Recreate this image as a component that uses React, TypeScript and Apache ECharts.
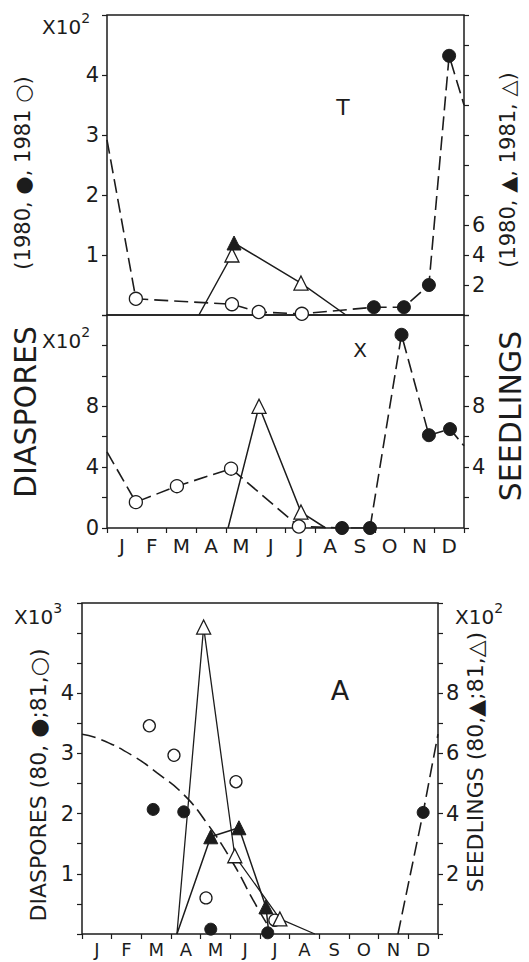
import React, { useEffect, useRef } from "react";
import * as echarts from "echarts";

// ---------- data ----------
const months = ["J", "F", "M", "A", "M", "J", "J", "A", "S", "O", "N", "D"];
const monthIdx = months.map((_, i) => String(i));

// Panel T (diaspores x10^2 left, seedlings right)
const diaT_edgeStart = [[0, 2.92]];
const diaT_1981 = [[0.97, 0.27], [4.2, 0.18], [5.1, 0.05], [6.55, 0.02]];
const diaT_1980 = [[8.97, 0.13], [9.98, 0.13], [10.82, 0.5], [11.5, 4.32]];
const diaT_edgeEnd = [[12, 3.5]];
const seedT_line = [[3.09, 0], [4.2, 4.0], [4.27, 4.8], [6.52, 2.13], [8.03, 0]];
const seedT_1980 = [[4.27, 4.8]];
const seedT_1981 = [[4.2, 4.0], [6.52, 2.13]];

// Panel X
const diaX_edgeStart = [[0, 5.0]];
const diaX_1981 = [[0.97, 1.7], [2.35, 2.75], [4.17, 3.9], [6.45, 0.1]];
const diaX_1980 = [[7.9, 0], [8.84, 0], [9.9, 12.7], [10.82, 6.1], [11.53, 6.5]];
const diaX_edgeEnd = [[12, 5.4]];
const seedX_line = [[4.07, 0], [5.11, 8.0], [6.52, 1.05], [7.35, 0]];
const seedX_1981 = [[5.11, 8.0], [6.52, 1.05]];

// Panel A (diaspores x10^3 left, seedlings x10^2 right)
const diaA_curve1 = [[0, 3.32], [0.6, 3.24], [1.72, 2.96], [2.52, 2.68], [3.4, 2.33], [4.2, 1.85], [5.09, 1.18], [5.76, 0.57], [6.22, 0.18]];
const diaA_curve2 = [[10.65, 0], [11.5, 2.02], [12, 3.32]];
const diaA_1981 = [[2.27, 3.46], [3.1, 2.97], [5.19, 2.53], [4.18, 0.6], [6.5, 0.23]];
const diaA_1980 = [[2.4, 2.07], [3.43, 2.03], [4.34, 0.08], [6.26, 0.02], [11.5, 2.02]];
const seedA_1981_line = [[3.2, 0], [4.1, 10.2], [5.15, 2.6], [6.67, 0.5], [7.85, 0]];
const seedA_1980_line = [[3.2, 0], [4.34, 3.23], [5.29, 3.53], [6.2, 0.9], [6.3, 0]];
const seedA_1981 = [[4.1, 10.2], [5.15, 2.6], [6.67, 0.5]];
const seedA_1980 = [[4.34, 3.23], [5.29, 3.53], [6.2, 0.9]];

// tick labels shown
const tLeftLabels = [1, 2, 3, 4];
const tRightLabels = [2, 4, 6];
const xLeftLabels = [0, 4, 8];
const xRightLabels = [4, 8];
const aLeftLabels = [1, 2, 3, 4];
const aRightLabels = [2, 4, 6, 8];

const FONT = "DejaVu Sans";
const INK = "#1c1c1c";

export default function App() {
  const ref = useRef<HTMLDivElement>(null);
  useEffect(() => {
    if (!ref.current) return;
    const chart = echarts.init(ref.current, null, { renderer: "svg" });

    const grids = [
      { left: 107, top: 15, width: 357, height: 300 },
      { left: 107, top: 315, width: 357, height: 213 },
      { left: 82, top: 603, width: 356, height: 331 },
    ].map((g) => ({ ...g, show: true, borderColor: INK, borderWidth: 1.5, backgroundColor: "transparent" }));

    const valueX = (gi: number, ticks: boolean) => ({
      type: "value",
      gridIndex: gi,
      position: "bottom",
      min: 0,
      max: 12,
      interval: 1,
      axisLine: { show: false },
      axisTick: { show: ticks, length: 5, lineStyle: { color: INK, width: 1.2 } },
      axisLabel: { show: false },
      splitLine: { show: false },
    });
    const catX = (gi: number, margin: number, size: number) => ({
      type: "category",
      gridIndex: gi,
      position: "bottom",
      data: monthIdx,
      boundaryGap: true,
      axisLine: { show: false },
      axisTick: { show: false },
      axisLabel: {
        show: true,
        margin,
        interval: 0,
        formatter: (_v: string, i: number) => months[i],
        fontFamily: FONT,
        fontSize: size,
        color: INK,
      },
      splitLine: { show: false },
    });
    const valueY = (gi: number, pos: string, max: number, interval: number, shown: number[], tickLen = 5) => ({
      type: "value",
      gridIndex: gi,
      position: pos,
      min: 0,
      max,
      interval,
      axisLine: { show: false },
      axisTick: { show: true, length: tickLen, lineStyle: { color: INK, width: 1.2 } },
      axisLabel: {
        show: true,
        margin: 8,
        showMaxLabel: true,
        formatter: (v: number) => (shown.includes(Math.round(v * 100) / 100) ? String(v) : ""),
        fontFamily: FONT,
        fontSize: 21,
        color: INK,
      },
      splitLine: { show: false },
    });

    const dashed = { color: INK, width: 1.6, type: [14, 6] as any };
    const solid = { color: INK, width: 1.5, type: "solid" };

    const line = (name: string, data: number[][], xi: number, yi: number, style: any, smooth = false) => ({
      name,
      type: "line",
      xAxisIndex: xi,
      yAxisIndex: yi,
      data,
      showSymbol: false,
      symbol: "none",
      smooth,
      lineStyle: style,
      z: 2,
      clip: true,
    });
    const marks = (name: string, data: number[][], xi: number, yi: number, symbol: string, filled: boolean, size = 13) => ({
      name,
      type: "scatter",
      xAxisIndex: xi,
      yAxisIndex: yi,
      data,
      symbol,
      symbolSize: size,
      itemStyle: filled
        ? { color: INK, borderColor: INK, borderWidth: 1, opacity: 1 }
        : { color: "#ffffff", borderColor: INK, borderWidth: 1.3, opacity: 1 },
      z: 4,
    });

    const vtext = (text: string, x: number, y: number, size: number) => ({
      type: "text",
      x,
      y,
      rotation: Math.PI / 2,
      style: { text, fontFamily: FONT, fontSize: size, fill: INK, align: "center", verticalAlign: "middle" },
      z: 10,
    });
    const expText = (base: string, exp: string, x: number, y: number) => ({
      type: "text",
      x,
      y,
      style: {
        text: `{a|${base}}{b|${exp}}`,
        rich: {
          a: { fontFamily: FONT, fontSize: 20, fill: INK, color: INK, lineHeight: 26, verticalAlign: "bottom" },
          b: { fontFamily: FONT, fontSize: 14, fill: INK, color: INK, lineHeight: 26, verticalAlign: "top" },
        },
        align: "left",
        verticalAlign: "middle",
      },
      z: 10,
    });
    const label = (text: string, x: number, y: number, size: number) => ({
      type: "text",
      x,
      y,
      style: { text, fontFamily: FONT, fontSize: size, fill: INK, align: "center", verticalAlign: "middle" },
      z: 10,
    });

    chart.setOption({
      animation: false,
      backgroundColor: "#ffffff",
      grid: grids,
      xAxis: [valueX(0, false), valueX(1, true), catX(1, 8, 20), valueX(2, true), catX(2, 6, 18)],
      yAxis: [
        valueY(0, "left", 5, 1, tLeftLabels),
        valueY(0, "right", 20, 2, tRightLabels),
        valueY(1, "left", 14, 2, xLeftLabels),
        valueY(1, "right", 14, 2, xRightLabels),
        valueY(2, "left", 5.5, 0.5, aLeftLabels),
        valueY(2, "right", 11, 1, aRightLabels),
      ],
      series: [
        // T
        line("diaT", [...diaT_edgeStart, ...diaT_1981, ...diaT_1980, ...diaT_edgeEnd], 0, 0, dashed),
        marks("diaT_1981", diaT_1981, 0, 0, "circle", false),
        marks("diaT_1980", diaT_1980, 0, 0, "circle", true),
        line("seedT", seedT_line, 0, 1, solid),
        marks("seedT_1981", seedT_1981, 0, 1, "triangle", false, 14),
        marks("seedT_1980", seedT_1980, 0, 1, "triangle", true, 14),
        // X
        line("diaX", [...diaX_edgeStart, ...diaX_1981, ...diaX_1980, ...diaX_edgeEnd], 1, 2, dashed),
        marks("diaX_1981", diaX_1981, 1, 2, "circle", false),
        marks("diaX_1980", diaX_1980, 1, 2, "circle", true),
        line("seedX", seedX_line, 1, 3, solid),
        marks("seedX_1981", seedX_1981, 1, 3, "triangle", false, 14),
        // A
        line("diaA1", diaA_curve1, 3, 4, dashed, true),
        line("diaA2", diaA_curve2, 3, 4, dashed),
        marks("diaA_1981", diaA_1981, 3, 4, "circle", false, 12),
        marks("diaA_1980", diaA_1980, 3, 4, "circle", true, 12),
        line("seedA81", seedA_1981_line, 3, 5, { ...solid, width: 1.3 }),
        line("seedA80", seedA_1980_line, 3, 5, solid),
        marks("seedA_1981", seedA_1981, 3, 5, "triangle", false, 14),
        marks("seedA_1980", seedA_1980, 3, 5, "triangle", true, 14),
      ],
      graphic: [
        expText("X10", "2", 42, 24),
        expText("X10", "2", 42, 338),
        expText("X10", "3", 14, 614),
        expText("X10", "2", 455, 614),
        label("T", 343, 107, 22),
        label("X", 360, 350, 20),
        label("A", 340, 690, 27),
        vtext("(1980, ●, 1981 ○)", 23, 173, 21),
        vtext("(1980, ▲, 1981, △)", 508, 170, 21),
        vtext("DIASPORES", 25, 412, 30),
        vtext("SEEDLINGS", 510, 416, 30),
        vtext("DIASPORES (80, ●;81,○)", 38, 785, 22),
        vtext("SEEDLINGS (80,▲;81,△)", 475, 762, 22),
      ],
    });
    return () => chart.dispose();
  }, []);
  return (
    <div
      ref={ref}
      style={{ position: "fixed", left: 0, top: 0, width: 529, height: 962, background: "#fff" }}
    />
  );
}
